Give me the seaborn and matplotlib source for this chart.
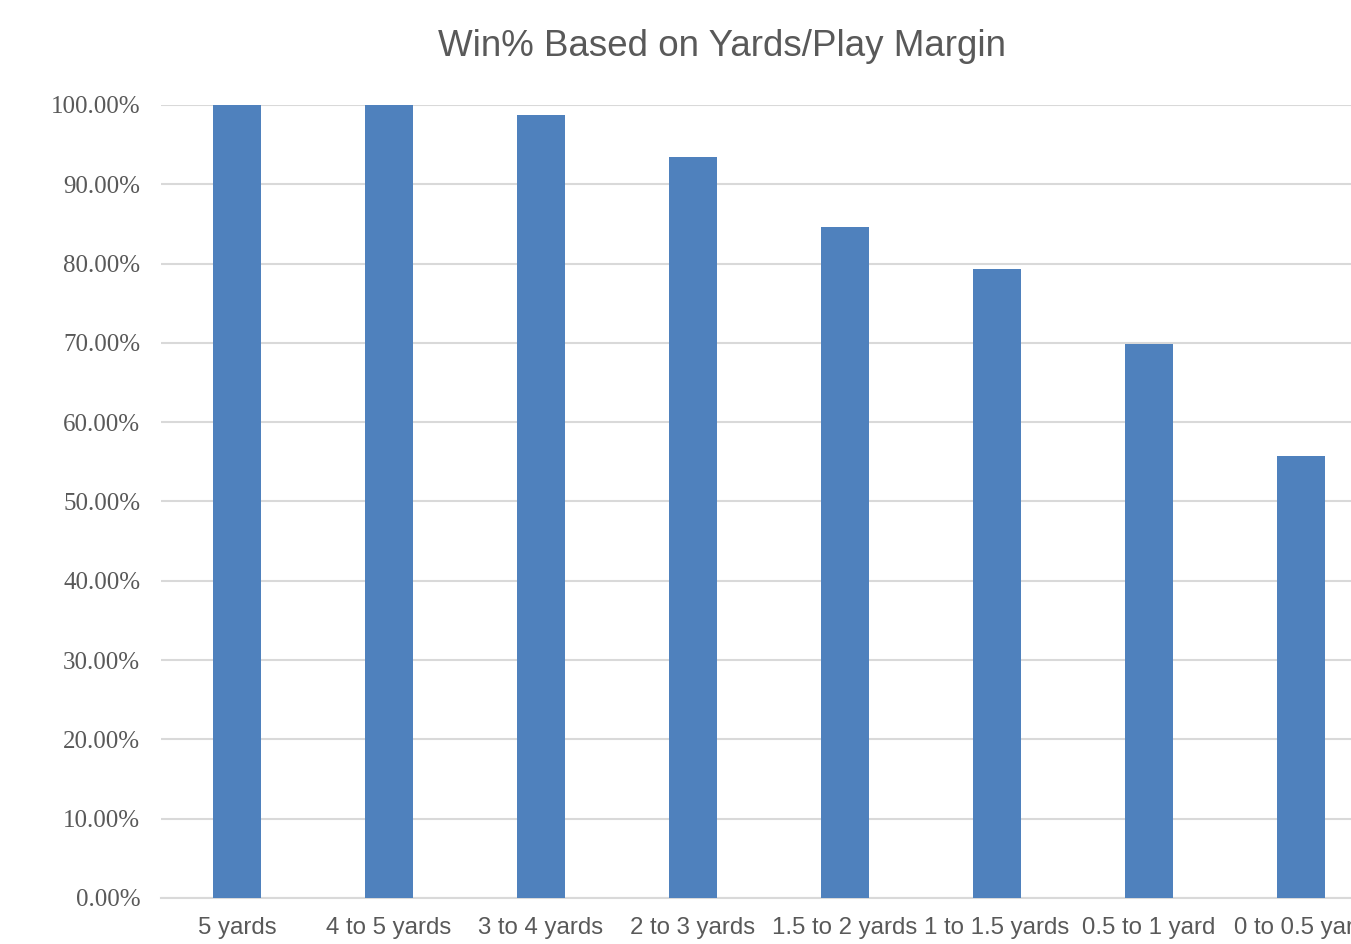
import matplotlib
matplotlib.use('Agg')
import matplotlib.pyplot as plt
import seaborn as sns
import pandas as pd
from matplotlib.ticker import PercentFormatter

# Data
categories = ['5 yards', '4 to 5 yards', '3 to 4 yards', '2 to 3 yards',
              '1.5 to 2 yards', '1 to 1.5 yards', '0.5 to 1 yard', '0 to 0.5 yard']
win_pct = [100.0, 100.0, 98.7, 93.4, 84.6, 79.3, 69.9, 55.8]
y_ticks = [0, 10, 20, 30, 40, 50, 60, 70, 80, 90, 100]

df = pd.DataFrame({'margin': categories, 'win': win_pct})

sns.set_style('white')
fig = plt.figure(figsize=(13.51, 9.44), dpi=100)
# axes run slightly past the right edge, like the cropped original
ax = fig.add_axes([161 / 1351, (944 - 898) / 944, 1216 / 1351, 793 / 944])

sns.barplot(data=df, x='margin', y='win', color='#4F81BD', saturation=1,
            width=0.316, linewidth=0, ax=ax, zorder=3)

ax.set_ylim(0, 100)
ax.set_xlim(-0.5, 7.5)
ax.set_yticks(y_ticks)
ax.yaxis.set_major_formatter(PercentFormatter(decimals=2))
ax.grid(axis='y', color='#d9d9d9', linewidth=1.5, zorder=0)
ax.set_axisbelow(True)

for side in ['top', 'right', 'left']:
    ax.spines[side].set_visible(False)
ax.spines['bottom'].set_color('#d9d9d9')
ax.spines['bottom'].set_linewidth(1.5)

ax.tick_params(axis='both', length=0)
ax.tick_params(axis='y', pad=15)
ax.tick_params(axis='x', pad=14)
for lbl in ax.get_yticklabels():
    lbl.set_fontfamily('Liberation Serif')
    lbl.set_fontsize(18)
    lbl.set_color('#595959')
for lbl in ax.get_xticklabels():
    lbl.set_fontfamily('Liberation Sans')
    lbl.set_fontsize(17.3)
    lbl.set_color('#595959')

ax.set_xlabel('')
ax.set_ylabel('')

fig.text(722 / 1351, 1 - 46 / 944, 'Win% Based on Yards/Play Margin',
         ha='center', va='center', fontsize=26.5, color='#595959',
         family='Liberation Sans')

fig.savefig('out.png', dpi=100)
